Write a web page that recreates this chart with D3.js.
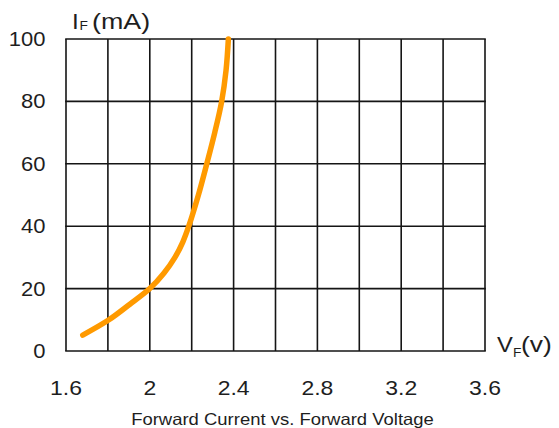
<!DOCTYPE html>
<html><head><meta charset="utf-8">
<script src="https://cdn.jsdelivr.net/npm/d3@7"></script>
<style>body{margin:0;background:#fff;} svg{display:block;} text{font-family:"Liberation Sans",Arial,sans-serif;fill:#1e1e1e;}</style>
</head><body><svg id="c" width="559" height="428"></svg>
<script>
const xTicks = [1.6, 1.8, 2.0, 2.2, 2.4, 2.6, 2.8, 3.0, 3.2, 3.4, 3.6];
const xLabels = [1.6, 2.0, 2.4, 2.8, 3.2, 3.6];
const yTicks = [0, 20, 40, 60, 80, 100];
const vf = [1.68, 1.805, 1.905, 2.0, 2.068, 2.12, 2.158, 2.186, 2.232, 2.272, 2.31, 2.343, 2.364, 2.375];
const iF = [5.1, 10, 15, 20, 25, 30, 35, 40, 50, 60, 70, 80, 90, 100];

const svg = d3.select("#c");
const x = d3.scaleLinear().domain([1.6, 3.6]).range([66, 485]);
const y = d3.scaleLinear().domain([0, 100]).range([351, 39]);

function txt(px, py, str, size, sx, anchor) {
  return svg.append("text")
    .attr("transform", `translate(${px},${py}) scale(${sx},1)`)
    .attr("font-size", size).attr("text-anchor", anchor || "start").text(str);
}

const g = svg.append("g");
g.selectAll("line.v").data(xTicks).join("line")
  .attr("x1", d => x(d)).attr("x2", d => x(d)).attr("y1", y(0)).attr("y2", y(100))
  .attr("stroke", "#151515").attr("stroke-width", 1.6);
g.selectAll("line.h").data(yTicks).join("line")
  .attr("y1", d => y(d)).attr("y2", d => y(d)).attr("x1", x(1.6) - 0.8).attr("x2", x(3.6) + 0.8)
  .attr("stroke", "#151515").attr("stroke-width", 1.6);

yTicks.forEach(d => txt(45.5, y(d) + 7, String(d), 20, 1.1, "end"));
xLabels.forEach(d => txt(x(d), 395, d3.format("")(d), 20.5, 1.12, "middle"));

const line = d3.line().x(d => x(d[0])).y(d => y(d[1])).curve(d3.curveCatmullRom.alpha(0.5));
svg.append("path").datum(vf.map((v, i) => [v, iF[i]]))
  .attr("d", line).attr("fill", "none").attr("stroke", "#FF9A00")
  .attr("stroke-width", 5.5).attr("stroke-linecap", "round");

// axis titles
txt(72, 28.5, "I", 22, 1.1);
txt(79.5, 30, "F", 12.5, 1.1);
txt(92, 28.5, "(mA)", 22, 1.22);

txt(497, 352, "V", 22, 1.08);
txt(513, 356.5, "F", 12.5, 1.1);
txt(521, 352, "(v)", 22, 1.2);

txt(282.5, 424.7, "Forward Current vs. Forward Voltage", 16.5, 1.12, "middle");
</script></body></html>
